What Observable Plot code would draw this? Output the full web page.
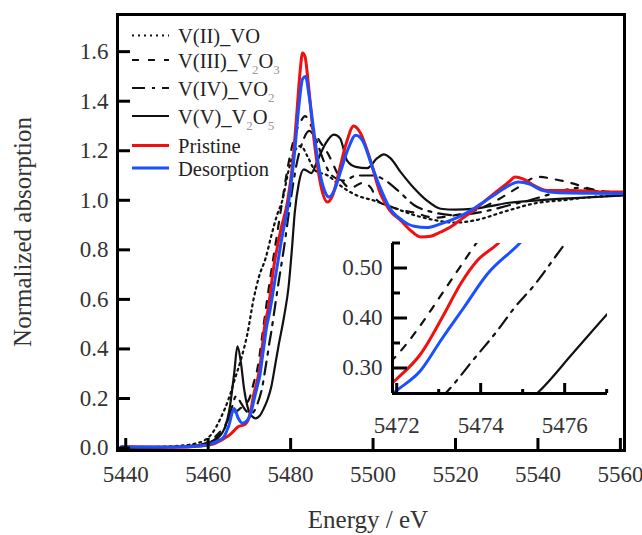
<!DOCTYPE html>
<html><head><meta charset="utf-8">
<script src="https://cdn.jsdelivr.net/npm/d3@7"></script>
<script src="https://cdn.jsdelivr.net/npm/@observablehq/plot@0.6"></script>
<style>
body{margin:0;background:#fff;}
#wrap{position:relative;width:642px;height:535px;overflow:hidden;font-family:"Liberation Serif";}
#main,#inset,#overlay{position:absolute;left:0;top:0;}
#inset{left:322px;top:238px;}
svg text{font-family:"Liberation Serif" !important;}
</style></head><body>
<div id="wrap"><div id="main"></div><div id="inset"></div><svg id="overlay" width="642" height="535"></svg></div>
<script>
// ---- data ----
const E_VO  = [5439,5445,5452,5456,5459,5461,5463,5465,5466.5,5468,5469.5,5471,5472.3,5474,5475.2,5476.8,5478,5479.5,5481,5482.5,5484,5486,5489,5492,5496,5500,5505,5510,5515,5520,5525,5532,5540,5546,5553,5561];
const A_VO  = [0.0,0.003,0.008,0.015,0.03,0.06,0.12,0.2,0.28,0.36,0.46,0.6,0.69,0.77,0.85,0.945,1.0,1.12,1.2,1.22,1.18,1.12,1.1,1.06,1.02,1.0,0.97,0.94,0.92,0.91,0.92,0.955,0.99,1.0,1.013,1.02];

const E_V2O3 = [5439,5450,5457,5460,5462,5464,5465.5,5467,5468.5,5470,5471,5472,5472.53,5472.97,5473.37,5473.8,5475,5476.5,5478,5479.5,5481,5482.5,5483.5,5485,5487,5489,5492,5494.5,5497.5,5499.5,5501,5505,5510,5515,5520,5525,5530,5535,5540,5544,5548,5553,5561];
const A_V2O3 = [0.0,0.003,0.01,0.025,0.05,0.09,0.13,0.15,0.17,0.2,0.26,0.325,0.381,0.435,0.485,0.538,0.68,0.84,1.0,1.15,1.26,1.32,1.34,1.3,1.24,1.19,1.09,1.05,1.07,1.05,1.0,0.97,0.95,0.93,0.94,0.96,1.0,1.05,1.095,1.085,1.07,1.045,1.03];

const E_VO2 = [5439,5450,5457,5460,5462,5464,5465.5,5466.8,5468,5469.2,5470.5,5472,5473.17,5473.84,5474.4,5474.8,5475.3,5475.8,5477,5478.5,5480,5481.5,5483,5484.5,5486,5488,5490,5493,5496,5500,5503,5506,5510,5515,5520,5527,5533,5538,5542,5546,5550,5555,5561];
const A_VO2 = [0.0,0.003,0.01,0.02,0.04,0.08,0.15,0.21,0.18,0.15,0.14,0.18,0.25,0.318,0.375,0.42,0.468,0.525,0.66,0.82,1.0,1.15,1.24,1.28,1.25,1.16,1.1,1.08,1.1,1.1,1.08,1.04,0.98,0.95,0.94,0.955,0.98,1.0,1.02,1.04,1.05,1.035,1.03];

const E_V2O5 = [5439,5450,5457,5460,5462,5464,5465.3,5466.3,5467.1,5467.9,5468.7,5469.5,5470.5,5471.5,5472.5,5473.5,5474.5,5475.35,5476.2,5477.05,5478.4,5479.5,5480.3,5481,5482,5483.2,5485,5486.5,5488.5,5490.5,5492,5493.7,5495.8,5498.6,5501,5502.6,5504.2,5506.7,5509.9,5513,5516.4,5520,5524,5528,5533,5540,5550,5561];
const A_V2O5 = [0.0,0.003,0.01,0.02,0.035,0.08,0.17,0.3,0.41,0.35,0.24,0.17,0.13,0.12,0.13,0.16,0.2,0.25,0.33,0.411,0.53,0.65,0.8,0.95,1.07,1.125,1.11,1.16,1.23,1.265,1.25,1.16,1.135,1.13,1.17,1.185,1.17,1.114,1.05,1.0,0.966,0.962,0.965,0.975,0.99,1.0,1.01,1.02];

const E_PRI = [5439,5445,5452,5458,5461,5463,5464.5,5465.5,5467.1,5469.1,5470.2,5471.1,5472,5472.57,5473.13,5473.52,5473.92,5474.4,5475.9,5477.6,5479.2,5480.5,5481.5,5482.3,5482.9,5483.5,5484.3,5485.3,5486.5,5487.6,5488.9,5490.2,5491.8,5493.5,5495.3,5497,5499,5501.8,5504,5506.7,5509,5511.5,5514,5516.4,5518.8,5521.5,5524.4,5527,5529.3,5531.5,5533,5534.5,5536.5,5539,5542.2,5548.7,5554,5561];
const A_PRI = [0.005,0.004,0.003,0.008,0.015,0.03,0.045,0.057,0.084,0.098,0.14,0.22,0.278,0.328,0.408,0.468,0.515,0.548,0.73,0.88,0.99,1.15,1.35,1.52,1.595,1.58,1.47,1.3,1.14,1.04,0.993,1.02,1.12,1.23,1.3,1.27,1.18,1.027,0.96,0.919,0.88,0.852,0.855,0.872,0.892,0.925,0.96,0.995,1.027,1.055,1.075,1.094,1.085,1.06,1.04,1.04,1.035,1.033];

const E_DES = [5439,5445,5452,5458,5460.6,5462.5,5463.8,5465,5466.3,5467.3,5468.3,5469.4,5470.4,5471.2,5472,5472.57,5473.05,5473.6,5474.16,5474.9,5476.5,5478,5479.5,5481,5482,5482.9,5483.6,5484.5,5485.7,5487,5488.2,5489.3,5490.6,5492.2,5494,5495.8,5497.5,5499.5,5501.5,5504,5507,5510,5513,5516.4,5520.4,5524.4,5527,5529.3,5532,5535.3,5538,5541,5545,5553,5561];
const A_DES = [0.005,0.004,0.004,0.008,0.017,0.03,0.045,0.09,0.16,0.12,0.1,0.11,0.145,0.2,0.255,0.295,0.355,0.421,0.488,0.547,0.71,0.86,0.99,1.2,1.38,1.49,1.5,1.42,1.27,1.12,1.04,1.013,1.04,1.12,1.21,1.263,1.24,1.15,1.06,0.97,0.92,0.895,0.89,0.905,0.93,0.966,0.995,1.02,1.05,1.074,1.065,1.04,1.03,1.028,1.027];

const seriesNames = ["V(II)_VO","V(III)_V2O3","V(IV)_VO2","V(V)_V2O5","Pristine","Desorption"];
const xTicks = [5440,5460,5480,5500,5520,5540,5560];
const yTicks = [0,0.2,0.4,0.6,0.8,1.0,1.2,1.4,1.6];
const inXMajor = [5472,5474,5476];
const inXMinor = [5473,5475,5477];
const inYMajor = [0.30,0.40,0.50];
const inYMinor = [0.35,0.45,0.55];

// ---- styles ----
const styles = [
  {E:E_VO,   A:A_VO,   color:"#111", w:2.2, dash:"2,4"},
  {E:E_V2O3, A:A_V2O3, color:"#111", w:2.2, dash:"7,9"},
  {E:E_VO2,  A:A_VO2,  color:"#111", w:2.2, dash:"13,7,3,7"},
  {E:E_V2O5, A:A_V2O5, color:"#111", w:2.2, dash:null},
  {E:E_PRI,  A:A_PRI,  color:"#f01010", w:3, dash:null},
  {E:E_DES,  A:A_DES,  color:"#1a50ff", w:3, dash:null}
];
const rows = s => s.E.map((e,i)=>({E:e, A:s.A[i]}));
const lineMarks = () => styles.map(s => Plot.line(rows(s), {x:"E", y:"A", stroke:s.color, strokeWidth:s.w, strokeDasharray:s.dash, curve:"monotone-x", clip:true}));

const font = "Liberation Serif";

const main = Plot.plot({
  width:642, height:535, marginLeft:117, marginRight:18, marginTop:14, marginBottom:85,
  x:{domain:[5438,5561]}, y:{domain:[-0.01,1.75]},
  style:{fontFamily:font, fontSize:"23px", background:"transparent", color:"#333"},
  marks:[
    ...lineMarks(),
    Plot.frame({stroke:"#000", strokeWidth:3}),
    Plot.axisX({ticks:xTicks, tickSize:-12, tickPadding:27, tickFormat:d=>String(d), label:null, stroke:"#000", strokeWidth:3, fill:"#333"}),
    Plot.axisY({ticks:yTicks, tickSize:-13, tickPadding:22, tickFormat:d3.format(".1f"), label:null, stroke:"#000", strokeWidth:3, fill:"#333"})
  ]
});
document.getElementById("main").appendChild(main);

const inset = Plot.plot({
  width:290, height:225, marginLeft:70, marginRight:5, marginTop:5, marginBottom:70,
  x:{domain:[5471.9,5477.02]}, y:{domain:[0.249,0.549]},
  style:{fontFamily:font, fontSize:"23px", background:"transparent", color:"#333"},
  marks:[
    ...lineMarks(),
    Plot.ruleX([5471.9], {stroke:"#000", strokeWidth:3}),
    Plot.ruleY([0.249], {stroke:"#000", strokeWidth:3}),
    Plot.axisX({ticks:inXMajor, tickSize:-10, tickPadding:33, tickFormat:d=>String(d), label:null, stroke:"#000", strokeWidth:3, fill:"#333"}),
    Plot.axisX({ticks:inXMinor, tickSize:-4, tickFormat:()=>"", label:null, stroke:"#000", strokeWidth:3}),
    Plot.axisY({ticks:inYMajor, tickSize:-15, tickPadding:25, tickFormat:d3.format(".2f"), label:null, stroke:"#000", strokeWidth:3, fill:"#333"}),
    Plot.axisY({ticks:inYMinor, tickSize:-8, tickFormat:()=>"", label:null, stroke:"#000", strokeWidth:3})
  ]
});
document.getElementById("inset").appendChild(inset);

// ---- overlay: axis titles and legend ----
const ov = d3.select("#overlay");
ov.append("text").attr("transform","translate(22,232) rotate(-90)").attr("text-anchor","middle")
  .attr("dominant-baseline","central").attr("font-size",25).attr("fill","#333").text("Normalized absorption");
ov.append("text").attr("x",368).attr("y",528).attr("text-anchor","middle").attr("font-size",25).attr("fill","#333").text("Energy / eV");

const legY = [35.5, 60, 88, 116, 145.5, 168];
const legParts = [
  [["V(II)_VO"]],
  [["V(III)_V"],["2",1],["O"],["3",1]],
  [["V(IV)_VO"],["2",1]],
  [["V(V)_V"],["2",1],["O"],["5",1]],
  [["Pristine"]],
  [["Desorption"]]
];
styles.forEach((s,i)=>{
  const y = legY[i];
  ov.append("line").attr("x1",132).attr("x2",169).attr("y1",y).attr("y2",y)
    .attr("stroke",s.color).attr("stroke-width",s.w).attr("stroke-dasharray",s.dash);
  const t = ov.append("text").attr("x",178).attr("y",y+7.5).attr("font-size",20.5).attr("fill","#222");
  let sub = false;
  legParts[i].forEach(([str,isSub])=>{
    const ts = t.append("tspan").text(str);
    if (isSub && !sub) { ts.attr("dy",6).attr("font-size",13).attr("fill","#999"); sub = true; }
    else if (!isSub && sub) { ts.attr("dy",-6); sub = false; }
    else if (isSub && sub) { ts.attr("font-size",13).attr("fill","#999"); }
  });
});
</script></body></html>
